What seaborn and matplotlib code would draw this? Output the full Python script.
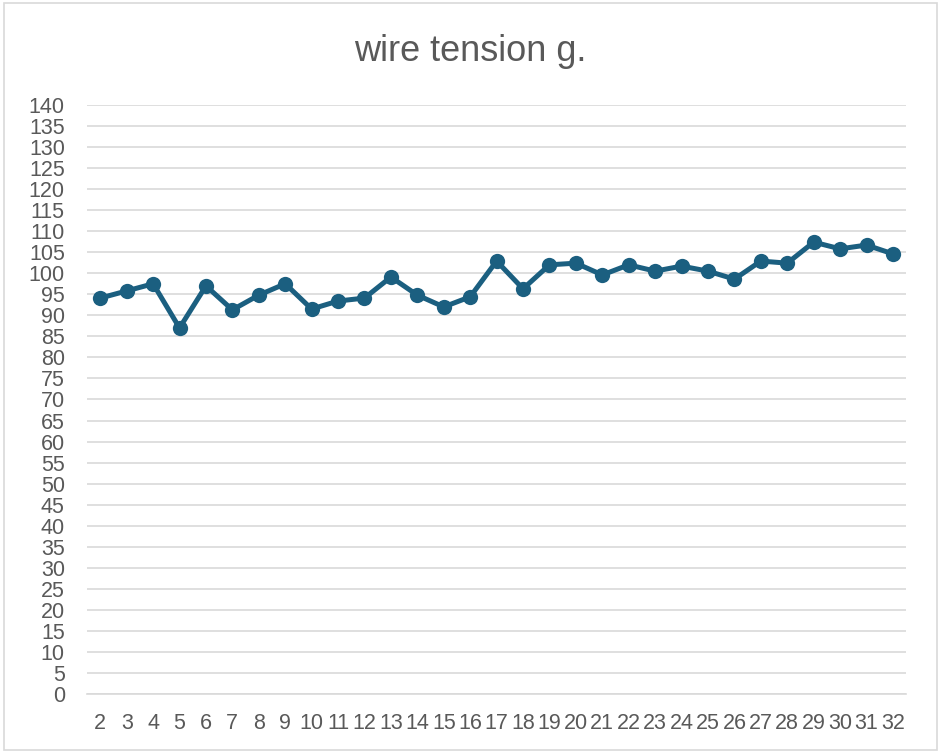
import numpy as np
import pandas as pd
import matplotlib
matplotlib.use('Agg')
import matplotlib.pyplot as plt
import seaborn as sns

# 데이터
samples = list(range(2, 33))
tension = [94.1, 95.8, 97.5, 87.0, 97.0, 91.3, 94.8, 97.5, 91.5, 93.4,
           94.1, 99.1, 94.8, 92.0, 94.4, 102.9, 96.3, 102.0, 102.4, 99.6,
           102.0, 100.5, 101.7, 100.5, 98.6, 102.9, 102.4, 107.4, 105.8, 106.7,
           104.6]
y_ticks = list(range(0, 145, 5))

df = pd.DataFrame({'pos': range(len(samples)), 'sample': samples, 'tension': tension})

sns.set_style('white')
plt.rcParams['font.family'] = ['Liberation Sans', 'DejaVu Sans']

text_color = '#595959'
grid_color = '#d9d9d9'
line_color = '#1b5f80'

fig = plt.figure(figsize=(9.41, 7.53), dpi=100)
ax = fig.add_axes([0.0925, 0.0784, 0.8705, 0.7822])

sns.lineplot(data=df, x='pos', y='tension', ax=ax, color=line_color,
             linewidth=3.6, marker='o', markersize=11, markeredgewidth=0,
             zorder=3)

ax.set_xlim(-0.5, len(samples) - 0.5)
ax.set_ylim(0, 140)
ax.set_yticks(y_ticks)
ax.set_yticklabels([str(v) for v in y_ticks], fontsize=15.5, color=text_color)
ax.yaxis.grid(True, color=grid_color, linewidth=1.2)
ax.tick_params(axis='y', length=0, pad=16)

ax.set_xticks(range(len(samples)))
ax.set_xticklabels([str(s) for s in samples], fontsize=15.5, color=text_color)
ax.set_xticks(np.arange(-0.5, len(samples), 1), minor=True)
ax.tick_params(axis='x', which='major', length=0, pad=14)
ax.tick_params(axis='x', which='minor', length=6, color=grid_color, width=1.2)

for side in ['top', 'right', 'left']:
    ax.spines[side].set_visible(False)
ax.spines['bottom'].set_color(grid_color)
ax.spines['bottom'].set_linewidth(1.2)

ax.set_xlabel('')
ax.set_ylabel('')
fig.suptitle('wire tension g.', fontsize=26, color=text_color, y=0.955)

# 차트 테두리
fig.patches.append(plt.Rectangle((0.004, 0.004), 0.992, 0.992, transform=fig.transFigure,
                                 fill=False, edgecolor=grid_color, linewidth=1.2))

fig.savefig('out.png', dpi=100)
